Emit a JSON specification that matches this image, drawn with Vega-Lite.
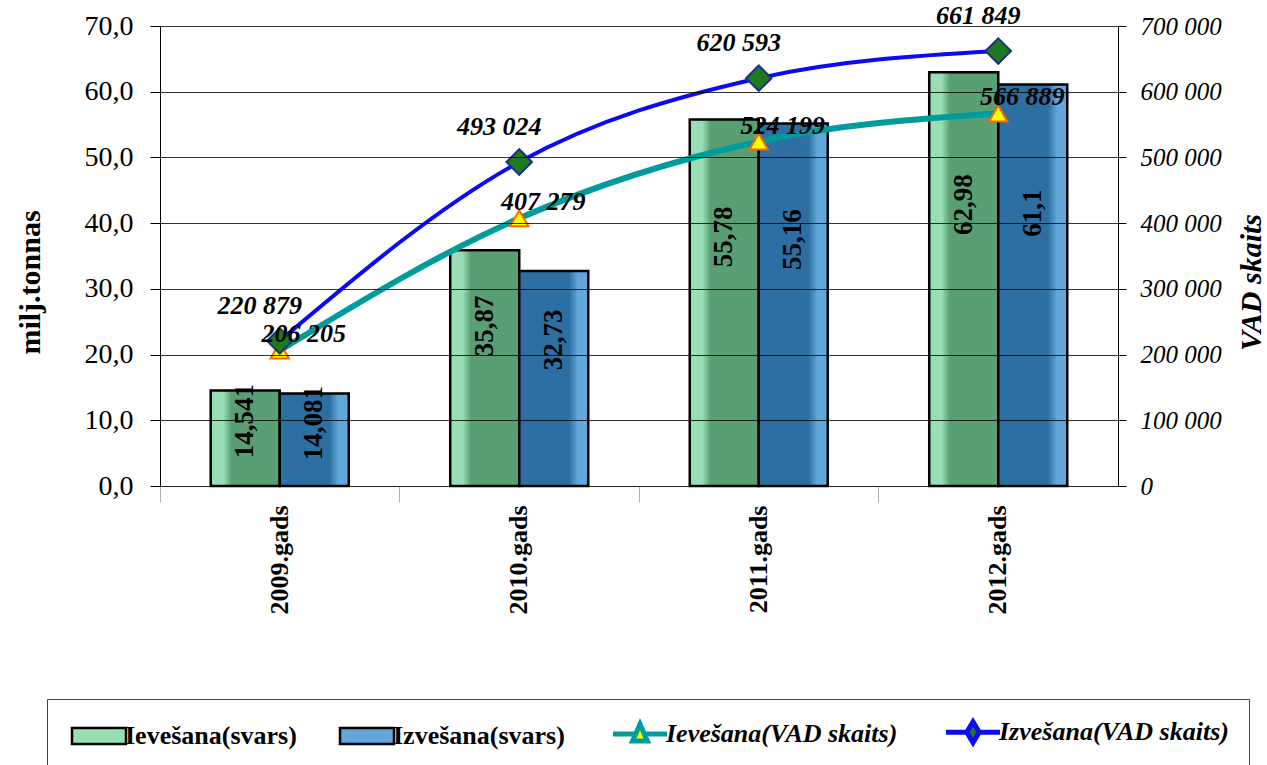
{
  "$schema": "https://vega.github.io/schema/vega-lite/v6.json",
  "width": 958,
  "height": 460,
  "autosize": {"type": "none"},
  "padding": {"left": 160, "top": 26, "right": 149, "bottom": 279},
  "background": "white",
  "config": {
    "font": "Liberation Serif",
    "view": {"stroke": null},
    "axis": {"labelFont": "Liberation Serif", "titleFont": "Liberation Serif", "labelColor": "black", "titleColor": "black"}
  },
  "datasets": {
    "bars": [
      {"year": "2009.gads", "series": "Ievešana(svars)", "value": 14.541},
      {"year": "2009.gads", "series": "Izvešana(svars)", "value": 14.081},
      {"year": "2010.gads", "series": "Ievešana(svars)", "value": 35.87},
      {"year": "2010.gads", "series": "Izvešana(svars)", "value": 32.73},
      {"year": "2011.gads", "series": "Ievešana(svars)", "value": 55.78},
      {"year": "2011.gads", "series": "Izvešana(svars)", "value": 55.16},
      {"year": "2012.gads", "series": "Ievešana(svars)", "value": 62.98},
      {"year": "2012.gads", "series": "Izvešana(svars)", "value": 61.1}
    ],
    "vad": [
      {"year": "2009.gads", "series": "Ievešana(VAD skaits)", "count": 206205},
      {"year": "2010.gads", "series": "Ievešana(VAD skaits)", "count": 407279},
      {"year": "2011.gads", "series": "Ievešana(VAD skaits)", "count": 524199},
      {"year": "2012.gads", "series": "Ievešana(VAD skaits)", "count": 566889},
      {"year": "2009.gads", "series": "Izvešana(VAD skaits)", "count": 220879},
      {"year": "2010.gads", "series": "Izvešana(VAD skaits)", "count": 493024},
      {"year": "2011.gads", "series": "Izvešana(VAD skaits)", "count": 620593},
      {"year": "2012.gads", "series": "Izvešana(VAD skaits)", "count": 661849}
    ]
  },
  "encoding": {
    "x": {
      "field": "year",
      "type": "nominal",
      "scale": {"paddingInner": 0, "paddingOuter": 0},
      "axis": {
        "title": null,
        "labelAngle": 270,
        "labelAlign": "right",
        "labelBaseline": "middle",
        "labelFontSize": 26,
        "labelFontWeight": "bold",
        "labelPadding": 3,
        "tickSize": 16,
        "tickColor": "#b0b0b0",
        "domainColor": "#c0c0c0",
        "bandPosition": 0,
        "grid": false
      }
    }
  },
  "layer": [
    {
      "data": {"name": "bars"},
      "transform": [{"filter": "datum.series === 'Ievešana(svars)'"}],
      "mark": {"type": "bar", "stroke": "black", "strokeWidth": 2.5,
        "fill": {"gradient": "linear", "x1": 0, "x2": 1, "y1": 0, "y2": 0, "stops": [
          {"offset": 0, "color": "#98DFB5"}, {"offset": 0.18, "color": "#98DFB5"},
          {"offset": 0.3, "color": "#5A9F74"}, {"offset": 1, "color": "#5A9F74"}]}},
      "encoding": {
        "xOffset": {"field": "series", "type": "nominal", "scale": {"domain": ["Ievešana(svars)", "Izvešana(svars)"], "paddingInner": 0, "paddingOuter": 0.735}},
        "y": {
          "field": "value",
          "type": "quantitative",
          "scale": {"domain": [0, 70]},
          "axis": {
            "orient": "left",
            "title": "milj.tonnas",
            "titleFontSize": 30,
            "titleFontWeight": "bold",
            "titleAngle": 270,
            "titleX": -130,
            "titleY": 256,
            "titleAlign": "center",
            "titleBaseline": "middle",
            "values": [0, 10, 20, 30, 40, 50, 60, 70],
            "labelExpr": "replace(format(datum.value, '.1f'), '.', ',')",
            "labelFontSize": 28,
            "labelPadding": 17,
            "tickSize": 10,
            "tickColor": "black",
            "domainColor": "black",
            "grid": true,
            "gridColor": "black",
            "gridOpacity": 0.8,
            "zindex": 1
          }
        }
      }
    },
    {
      "data": {"name": "bars"},
      "transform": [{"filter": "datum.series === 'Izvešana(svars)'"}],
      "mark": {"type": "bar", "stroke": "black", "strokeWidth": 2.5,
        "fill": {"gradient": "linear", "x1": 0, "x2": 1, "y1": 0, "y2": 0, "stops": [
          {"offset": 0, "color": "#2D6FA3"}, {"offset": 0.72, "color": "#2D6FA3"},
          {"offset": 0.85, "color": "#62A6DA"}, {"offset": 1, "color": "#62A6DA"}]}},
      "encoding": {
        "xOffset": {"field": "series", "type": "nominal", "scale": {"domain": ["Ievešana(svars)", "Izvešana(svars)"], "paddingInner": 0, "paddingOuter": 0.735}},
        "y": {"field": "value", "type": "quantitative", "scale": {"domain": [0, 70]}, "axis": null}
      }
    },
    {
      "data": {"name": "bars"},
      "transform": [{"calculate": "replace(format(datum.value, '.3~f'), '.', ',')", "as": "label"}],
      "mark": {"type": "text", "angle": 270, "fontWeight": "bold", "fontSize": 27, "font": "Liberation Serif", "color": "black", "align": "center", "baseline": "middle"},
      "encoding": {
        "xOffset": {"field": "series", "type": "nominal", "scale": {"domain": ["Ievešana(svars)", "Izvešana(svars)"], "paddingInner": 0, "paddingOuter": 0.735}},
        "y": {"field": "value", "type": "quantitative", "scale": {"domain": [0, 103]}, "axis": null},
        "text": {"field": "label", "type": "nominal"}
      }
    },
    {
      "data": {"name": "vad"},
      "mark": {"type": "line", "interpolate": "monotone"},
      "encoding": {
        "y": {
          "field": "count",
          "type": "quantitative",
          "scale": {"domain": [0, 700000]},
          "axis": {
            "orient": "right",
            "title": "VAD skaits",
            "titleFontSize": 30,
            "titleFontWeight": "bold",
            "titleFontStyle": "italic",
            "titleAngle": 270,
            "titleX": 133,
            "titleY": 256,
            "titleAlign": "center",
            "titleBaseline": "middle",
            "values": [0, 100000, 200000, 300000, 400000, 500000, 600000, 700000],
            "labelExpr": "replace(format(datum.value, ',d'), ',', ' ')",
            "labelFontSize": 25,
            "labelFontStyle": "italic",
            "labelPadding": 14,
            "tickSize": 8,
            "tickColor": "black",
            "domainColor": "black",
            "grid": false
          }
        },
        "color": {
          "field": "series",
          "type": "nominal",
          "scale": {
            "domain": ["Ievešana(svars)", "Izvešana(svars)", "Ievešana(VAD skaits)", "Izvešana(VAD skaits)"],
            "range": ["black", "black", "#009C9C", "#0A0AF5"]
          },
          "legend": {
            "orient": "none",
            "legendX": -113,
            "legendY": 673,
            "direction": "horizontal",
            "columns": 4,
            "title": null,
            "labelFont": "Liberation Serif",
            "labelFontSize": 26,
            "labelFontWeight": "bold",
            "labelColor": "black",
            "labelLimit": 500,
            "symbolSize": 256,
            "labelOffset": 32,
            "columnPadding": 38,
            "padding": 20,
            "strokeColor": "#444444",
            "encode": {
              "symbols": {"update": {
                "shape": {"signal": "datum.index < 2 ? 'M-1,-1H5.75V1H-1Z' : (datum.index == 2 ? 'M-1,0H1.6M3.15,0H5.75M2.375,-1.25L3.3,0.85H1.45Z' : 'M-1,0H1.6M3.15,0H5.75M2.375,-1.3L3.15,0L2.375,1.3L1.6,0Z')"},
                "fill": {"signal": "datum.index == 0 ? '#98DFB5' : (datum.index == 1 ? '#62A6DA' : (datum.index == 2 ? '#FFFF00' : '#1E7A1E'))"},
                "stroke": {"signal": "datum.index < 2 ? 'black' : (datum.index == 2 ? '#009C9C' : '#0A0AF5')"},
                "strokeWidth": {"signal": "datum.index < 2 ? 2.5 : 5"}
              }},
              "labels": {"update": {
                "fontStyle": {"signal": "datum.index < 2 ? 'normal' : 'italic'"}
              }}
            }
          }
        },
        "strokeWidth": {"condition": {"test": "datum.series === 'Ievešana(VAD skaits)'", "value": 6}, "value": 4}
      }
    },
    {
      "data": {"name": "vad"},
      "transform": [{"filter": "datum.series === 'Ievešana(VAD skaits)'"}],
      "mark": {"type": "point", "shape": "triangle-up", "filled": true, "size": 340, "fill": "#FFFF00", "stroke": "#FF6600", "strokeWidth": 2, "opacity": 1},
      "encoding": {
        "y": {"field": "count", "type": "quantitative", "scale": {"domain": [0, 700000]}, "axis": null}
      }
    },
    {
      "data": {"name": "vad"},
      "transform": [{"filter": "datum.series === 'Izvešana(VAD skaits)'"}],
      "mark": {"type": "point", "shape": "diamond", "filled": true, "size": 650, "fill": "#1E7A1E", "stroke": "#202E80", "strokeWidth": 2, "opacity": 1},
      "encoding": {
        "y": {"field": "count", "type": "quantitative", "scale": {"domain": [0, 700000]}, "axis": null}
      }
    },
    {
      "data": {"name": "vad"},
      "transform": [{"filter": "datum.series === 'Ievešana(VAD skaits)'"}, {"calculate": "replace(format(datum.count, ',d'), ',', ' ')", "as": "label"}],
      "mark": {"type": "text", "dx": 24, "dy": -16, "fontSize": 26, "fontWeight": "bold", "fontStyle": "italic", "font": "Liberation Serif", "color": "black"},
      "encoding": {
        "y": {"field": "count", "type": "quantitative", "scale": {"domain": [0, 700000]}, "axis": null},
        "text": {"field": "label", "type": "nominal"}
      }
    },
    {
      "data": {"name": "vad"},
      "transform": [{"filter": "datum.series === 'Izvešana(VAD skaits)'"}, {"calculate": "replace(format(datum.count, ',d'), ',', ' ')", "as": "label"}],
      "mark": {"type": "text", "dx": -20, "dy": -35, "fontSize": 26, "fontWeight": "bold", "fontStyle": "italic", "font": "Liberation Serif", "color": "black"},
      "encoding": {
        "y": {"field": "count", "type": "quantitative", "scale": {"domain": [0, 700000]}, "axis": null},
        "text": {"field": "label", "type": "nominal"}
      }
    }
  ],
  "resolve": {"scale": {"y": "independent"}}
}
